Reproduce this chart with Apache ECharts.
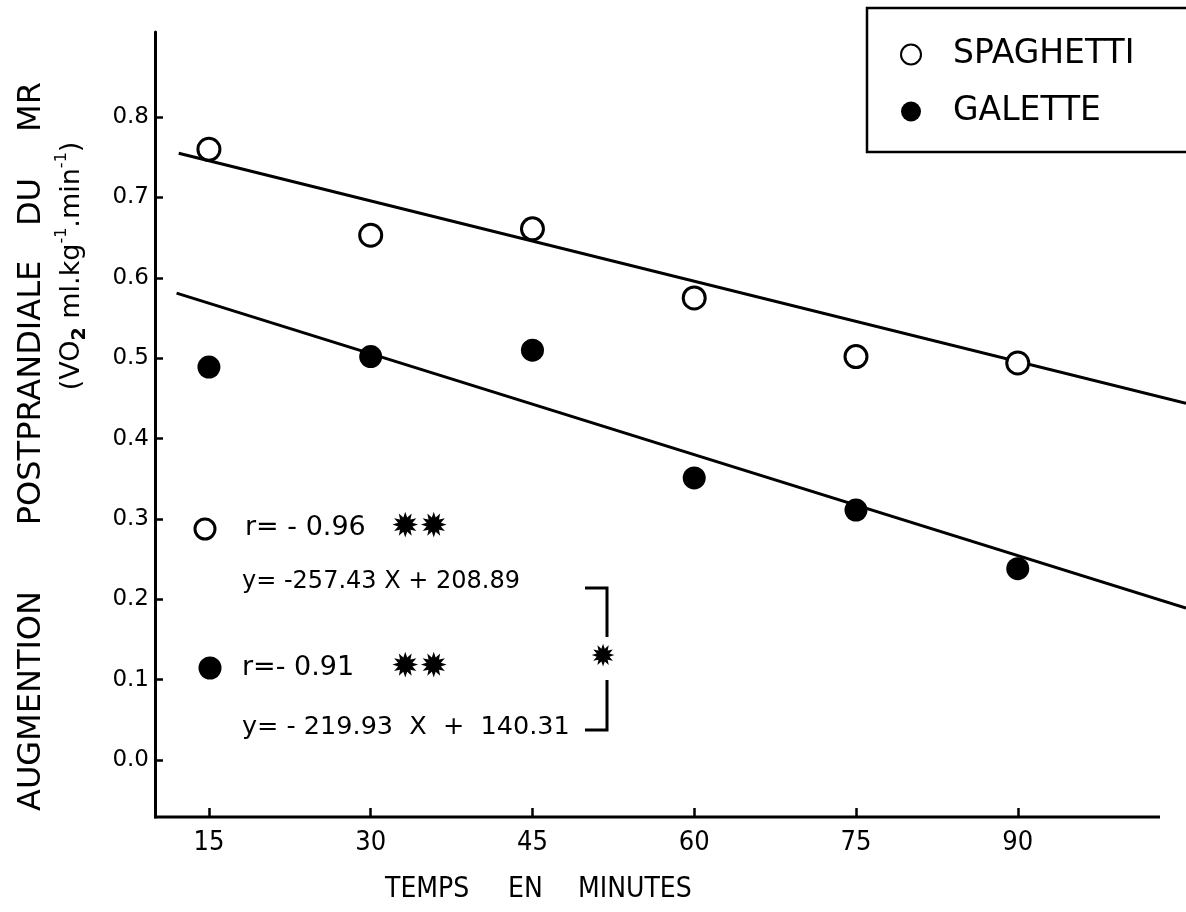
<!DOCTYPE html>
<html><head><meta charset="utf-8">
<script src="https://cdn.jsdelivr.net/npm/echarts@6/dist/echarts.min.js"></script>
<style>html,body{margin:0;padding:0;background:#fff}#c{width:1186px;height:912px}</style>
</head><body><div id="c"></div>
<script>
// ---- data ----
const times = [15, 30, 45, 60, 75, 90];
const spaghetti = [0.760, 0.653, 0.661, 0.575, 0.502, 0.494];
const galette = [0.489, 0.502, 0.510, 0.351, 0.311, 0.238];
const spaghettiFit = [[12.2, 0.755], [105.6, 0.444]];
const galetteFit = [[12.0, 0.581], [105.6, 0.189]];
const xTicks = [15, 30, 45, 60, 75, 90];
const yTicks = [0, 0.1, 0.2, 0.3, 0.4, 0.5, 0.6, 0.7, 0.8];
const seriesNames = ['SPAGHETTI', 'GALETTE'];

const F = 'DejaVu Sans';
const FC = '"DejaVu Sans Condensed", "Liberation Sans Narrow", "DejaVu Sans"';
const chart = echarts.init(document.getElementById('c'), null, {renderer: 'canvas'});

function txt(x, y, text, size, style) {
  return {
    type: 'text', x: x, y: y, silent: true,
    style: Object.assign({text: text, fontSize: size, fontFamily: F, fill: '#000',
      align: 'left', verticalAlign: 'middle'}, style || {})
  };
}
function vtxt(x, y, text, size) {
  return {type: 'text', x: x, y: y, rotation: Math.PI / 2, silent: true,
    style: {text: text, fontSize: size, fontFamily: F, fill: '#000', align: 'center', verticalAlign: 'middle'}};
}

const option = {
  backgroundColor: '#fff',
  animation: false,
  grid: {left: 155, right: 0, top: 32, bottom: 95, containLabel: false},
  legend: {
    data: seriesNames, orient: 'vertical', left: 867, top: 8,
    padding: [30, 140, 24, 33], itemWidth: 74, itemHeight: 20, itemGap: 24,
    borderColor: '#000', borderWidth: 2.5, selectedMode: false,
    textStyle: {fontSize: 33, fontFamily: F, color: '#000'}
  },
  xAxis: {
    type: 'value', min: 10, max: 105.6,
    axisLine: {show: false, onZero: false},
    axisTick: {show: true, inside: true, length: 9, customValues: xTicks, lineStyle: {color: '#000', width: 2.5}},
    axisLabel: {customValues: xTicks, color: '#000', fontSize: 27, fontFamily: FC, margin: 12},
    splitLine: {show: false}
  },
  yAxis: {
    type: 'value', min: -0.071, max: 0.906,
    axisLine: {show: true, onZero: false, lineStyle: {color: '#000', width: 3}},
    axisTick: {show: true, inside: true, length: 8, customValues: yTicks, lineStyle: {color: '#000', width: 2.5}},
    axisLabel: {customValues: yTicks, color: '#000', fontSize: 23, fontFamily: F, margin: 6,
      formatter: v => v.toFixed(1)},
    splitLine: {show: false}
  },
  series: [
    {name: 'fit1', type: 'line', data: spaghettiFit, symbol: 'none', clip: false, silent: true, z: 2,
      lineStyle: {color: '#000', width: 3}},
    {name: 'fit2', type: 'line', data: galetteFit, symbol: 'none', clip: false, silent: true, z: 2,
      lineStyle: {color: '#000', width: 3}},
    {name: seriesNames[0], type: 'scatter', data: times.map((t, i) => [t, spaghetti[i]]),
      symbol: 'circle', symbolSize: 22, z: 3,
      itemStyle: {color: '#fff', borderColor: '#000', borderWidth: 3, opacity: 1}},
    {name: seriesNames[1], type: 'scatter', data: times.map((t, i) => [t, galette[i]]),
      symbol: 'circle', symbolSize: 23, z: 3,
      itemStyle: {color: '#000', opacity: 1}}
  ],
  graphic: [
    // x axis baseline (stops short of the right edge, as in the original)
    {type: 'line', silent: true, shape: {x1: 154, y1: 817, x2: 1160, y2: 817},
      style: {stroke: '#000', lineWidth: 3}},
    // y axis title
    vtxt(32, 701, 'AUGMENTION', 32),
    vtxt(32, 393, 'POSTPRANDIALE', 32),
    vtxt(32, 202, 'DU', 32),
    vtxt(32, 107, 'MR', 32),
    {type: 'text', x: 72, y: 266, rotation: Math.PI / 2, silent: true,
      style: {text: '{n|(VO}{sub|2}{n| ml.kg}{sup|-1}{n|.min}{sup|-1}{n|)}', align: 'center', verticalAlign: 'middle',
        rich: {
          n: {fontSize: 27, fontFamily: F, fill: '#000', lineHeight: 36, verticalAlign: 'middle'},
          sub: {fontSize: 19, fontFamily: F, fill: '#000', fontWeight: 'bold', lineHeight: 17, verticalAlign: 'bottom'},
          sup: {fontSize: 16, fontFamily: F, fill: '#000', lineHeight: 17, verticalAlign: 'top'}
        }}},
    // x axis title
    txt(385, 890, 'TEMPS', 28, {fontFamily: FC}),
    txt(508, 890, 'EN', 28, {fontFamily: FC}),
    txt(578, 890, 'MINUTES', 28, {fontFamily: FC}),
    // annotations
    {type: 'circle', silent: true, shape: {cx: 205, cy: 529, r: 10}, style: {fill: '#fff', stroke: '#000', lineWidth: 3}},
    txt(245, 528, 'r= - 0.96', 27),
    txt(391, 528, '\u2739\u2739', 34),
    txt(242, 582, 'y= -257.43 X + 208.89', 24),
    {type: 'circle', silent: true, shape: {cx: 210, cy: 668, r: 11.5}, style: {fill: '#000'}},
    txt(242, 668, 'r=- 0.91', 27),
    txt(391, 668, '\u2739\u2739', 34),
    txt(242, 727, 'y= - 219.93  X  +  140.31', 25.5),
    {type: 'polyline', silent: true, shape: {points: [[585, 588], [607, 588], [607, 637]]},
      style: {stroke: '#000', lineWidth: 3, fill: null}},
    {type: 'polyline', silent: true, shape: {points: [[607, 680], [607, 730], [585, 730]]},
      style: {stroke: '#000', lineWidth: 3, fill: null}},
    txt(603, 658, '\u2739', 30, {align: 'center'})
  ]
};
chart.setOption(option);
</script></body></html>
